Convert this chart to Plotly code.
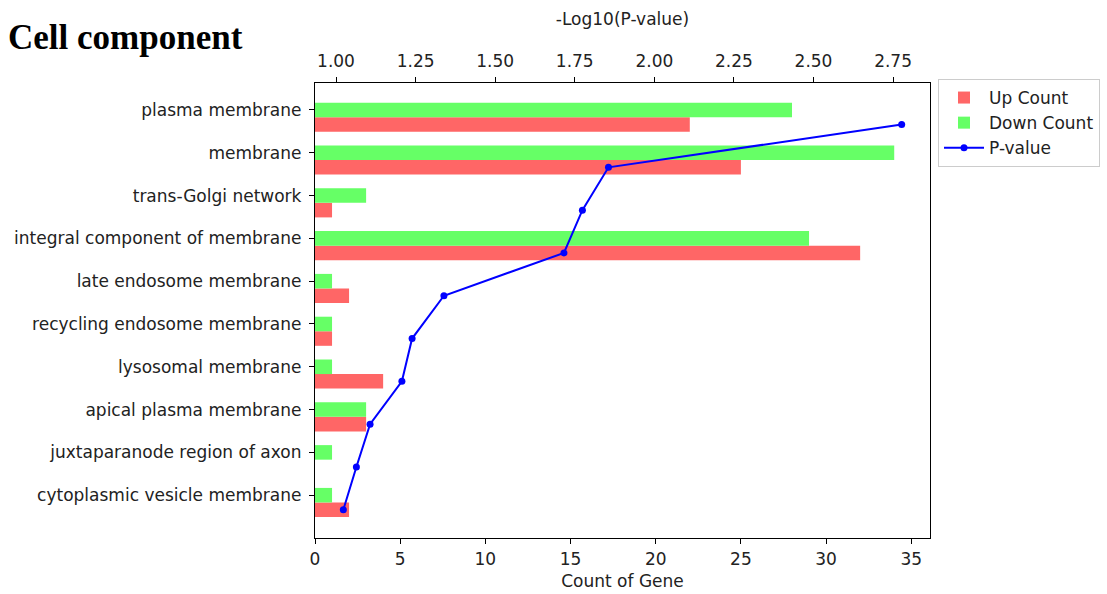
import plotly.graph_objects as go

categories = ["plasma membrane", "membrane", "trans-Golgi network",
              "integral component of membrane", "late endosome membrane",
              "recycling endosome membrane", "lysosomal membrane",
              "apical plasma membrane", "juxtaparanode region of axon",
              "cytoplasmic vesicle membrane"]
up_count = [22, 25, 1, 32, 2, 1, 4, 3, 0, 2]
down_count = [28, 34, 3, 29, 1, 1, 1, 3, 1, 1]
neg_log_p = [2.777, 1.856, 1.774, 1.716, 1.339, 1.239, 1.207, 1.107, 1.064, 1.023]

idx = list(range(len(categories)))
h = 0.34
y_down = [i for i in idx]
y_up = [i + h for i in idx]

font = "DejaVu Sans"
fs = 17
fig = go.Figure()
fig.add_trace(go.Bar(x=up_count, y=y_up, orientation="h", width=h,
                     marker=dict(color="#FF6666", line=dict(width=0)),
                     name="Up Count", xaxis="x", yaxis="y"))
fig.add_trace(go.Bar(x=down_count, y=y_down, orientation="h", width=h,
                     marker=dict(color="#66FF66", line=dict(width=0)),
                     name="Down Count", xaxis="x", yaxis="y"))
fig.add_trace(go.Scatter(x=neg_log_p, y=y_up, mode="lines+markers",
                         line=dict(color="#0000FF", width=2),
                         marker=dict(color="#0000FF", size=7),
                         name="P-value", xaxis="x2", yaxis="y"))

axis_common = dict(showline=True, linecolor="black", linewidth=1.3,
                   ticks="outside", ticklen=5, tickcolor="black",
                   showgrid=False, zeroline=False, automargin=False,
                   tickfont=dict(family=font, size=fs, color="#222"))

fig.update_layout(
    width=1107, height=594,
    margin=dict(l=315, r=177, t=83, b=56, autoexpand=False),
    paper_bgcolor="white", plot_bgcolor="white",
    barmode="overlay",
    showlegend=True,
    legend=dict(x=938 / 1107, y=1 - 79 / 594, xref="container", yref="container",
                xanchor="left", yanchor="top",
                bordercolor="#cccccc", borderwidth=1,
                font=dict(family=font, size=fs, color="#222"),
                tracegroupgap=0, itemwidth=40),
    xaxis=dict(range=[0, 36.1], tickvals=[0, 5, 10, 15, 20, 25, 30, 35],
               mirror=True, side="bottom",
               title=dict(text="Count of Gene", font=dict(family=font, size=fs, color="#222"), standoff=7),
               **axis_common),
    xaxis2=dict(range=[0.934, 2.866], overlaying="x", side="top",
                tickvals=[1.0, 1.25, 1.5, 1.75, 2.0, 2.25, 2.5, 2.75],
                ticktext=["1.00", "1.25", "1.50", "1.75", "2.00", "2.25", "2.50", "2.75"],
                ticklabelstandoff=3,
                title=dict(text="-Log10(P-value)", font=dict(family=font, size=fs, color="#222"), standoff=21),
                **axis_common),
    yaxis=dict(range=[10.0, -0.63], tickvals=idx, ticktext=categories,
               mirror=True, ticklabelstandoff=4, **axis_common),
    annotations=[dict(text="<b>Cell component</b>", x=0, y=0, xref="paper", yref="paper",
                      showarrow=False, xanchor="left", yanchor="middle",
                      font=dict(family="Liberation Serif", size=35, color="black"))],
)
pw = 1107 - 315 - 177
ph = 594 - 83 - 56
fig.layout.annotations[0].x = (6 - 315) / pw
fig.layout.annotations[0].y = (594 - 56 - 38) / ph

fig.write_html("out.html", config={"displayModeBar": False},
               post_script="document.body.style.margin='0';")
